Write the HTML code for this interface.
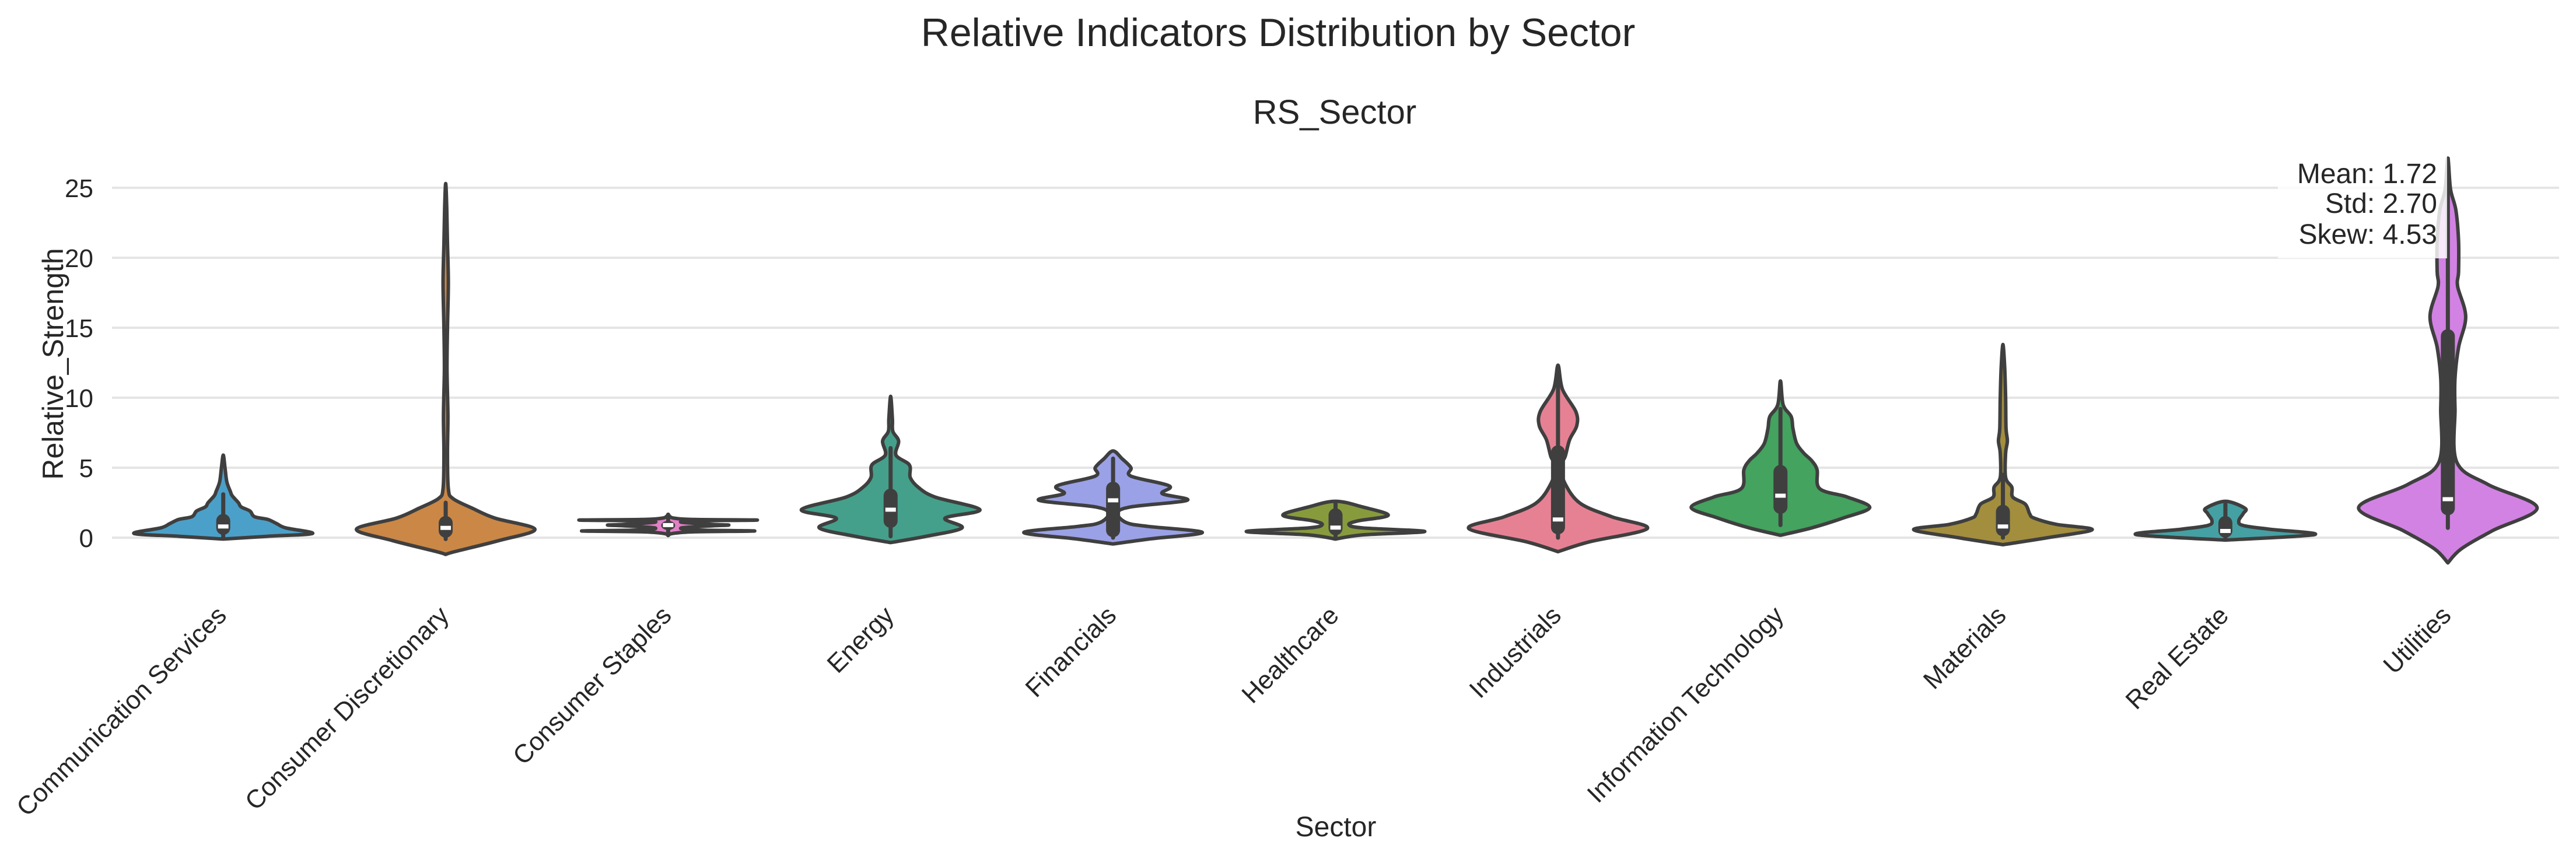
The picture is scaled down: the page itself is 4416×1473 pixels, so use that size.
<!DOCTYPE html>
<html><head><meta charset="utf-8"><style>
html,body{margin:0;padding:0;background:#fff;}
svg{display:block;font-family:"Liberation Sans",Arial,sans-serif;}
</style></head><body>
<svg id="chart" width="4416" height="1473" viewBox="0 0 4416 1473" xmlns="http://www.w3.org/2000/svg">
<rect width="4416" height="1473" fill="#fff"/>
<text x="2191" y="79" font-size="68" text-anchor="middle" fill="#262626">Relative Indicators Distribution by Sector</text>
<text x="2288" y="212" font-size="58" text-anchor="middle" fill="#262626">RS_Sector</text>
<g id="grid"></g>
<g id="yticks"></g>
<g id="violins"></g>
<g id="xticks"></g>
<text transform="translate(108,624) rotate(-90)" font-size="50" text-anchor="middle" fill="#262626">Relative_Strength</text>
<text x="2290" y="1434" font-size="48" text-anchor="middle" fill="#262626">Sector</text>
<g>
<rect x="3905" y="268" width="290" height="175" fill="#fff" fill-opacity="0.82"/>
<text x="4178" y="314" font-size="48" text-anchor="end" fill="#262626">Mean: 1.72</text>
<text x="4178" y="365" font-size="48" text-anchor="end" fill="#262626">Std: 2.70</text>
<text x="4178" y="418" font-size="48" text-anchor="end" fill="#262626">Skew: 4.53</text>
</g>
</svg>
<script>
const categories=["Communication Services","Consumer Discretionary","Consumer Staples","Energy","Financials","Healthcare","Industrials","Information Technology","Materials","Real Estate","Utilities"];
const colors=["#4ba0c9","#cb8746","#e37fc6","#44a08a","#9aa1e6","#879b3d","#e68194","#43a35f","#a38e3e","#45a0a3","#d282e3"];
const yTicks=[0,5,10,15,20,25];
const commVals=[-0.1,0.1,0.3,0.7,1.0,1.3,1.5,1.9,2.2,2.5,3.0,3.3,4.0,5.0,5.9];
const commW=[0,0.5,1,0.7,0.6,0.5,0.35,0.3,0.2,0.17,0.1,0.08,0.04,0.02,0];
const discVals=[-1.2,-1.0,-0.2,0.6,1.4,2.1,2.8,3.5,6,8.7,12,15,18.2,21,23.5,25.3];
const discW=[0,0.1,0.6,1,0.55,0.3,0.08,0.03,0.02,0.025,0.015,0.02,0.03,0.02,0.012,0];
const stapVals=[0.15,0.3,0.42,0.48,0.55,0.7,0.85,0.9,0.95,1.1,1.2,1.26,1.3,1.4,1.6];
const stapW=[0,0.05,0.3,0.97,0.3,0.15,0.5,0.68,0.5,0.15,0.3,1.0,0.3,0.06,0];
const enerVals=[-0.35,0.1,0.7,1.4,2.0,2.9,3.6,4.3,5.2,5.9,6.9,7.6,8.5,10.1];
const enerW=[0,0.4,0.8,0.61,1,0.5,0.31,0.22,0.21,0.06,0.09,0.025,0.02,0];
const finVals=[-0.45,-0.1,0.37,0.8,1.07,1.75,2.2,2.67,3.15,3.7,4.4,5.0,5.65,6.2];
const finW=[0,0.4,1,0.4,0.15,0.05,0.2,0.83,0.55,0.63,0.2,0.2,0.1,0];
const healVals=[-0.1,0.2,0.44,0.7,0.93,1.2,1.6,2.2,2.6];
const healW=[0,0.3,1,0.3,0.15,0.25,0.59,0.3,0];
const indVals=[-1.0,-0.3,0.65,1.5,2.45,3.85,5.1,5.8,7.0,8.0,9.0,10.6,12.3];
const indW=[0,0.35,1,0.6,0.25,0.08,0.03,0.08,0.13,0.21,0.2,0.05,0];
const itVals=[0.17,0.7,1.4,2.15,2.9,3.5,4.85,5.5,6.05,6.75,7.8,8.65,9.5,11.2];
const itW=[0,0.35,0.7,1,0.75,0.44,0.41,0.35,0.26,0.18,0.14,0.12,0.03,0];
const matVals=[-0.5,0,0.57,0.95,1.4,1.7,2.4,2.9,3.6,4.3,6.05,6.9,7.8,10,12.1,13.8];
const matW=[0,0.5,1,0.6,0.35,0.3,0.25,0.11,0.1,0.03,0.03,0.05,0.035,0.03,0.02,0];
const reVals=[-0.17,0.22,0.6,0.87,1.2,1.73,2.1,2.6];
const reW=[0,1,0.5,0.2,0.15,0.2,0.22,0];
const utilVals=[-1.8,-0.8,0.5,2.14,3.8,5.4,9.2,11.4,13.6,15.8,17.95,19,21.2,23.4,24.9,27.1];
const utilW=[0,0.15,0.5,1,0.45,0.1,0.08,0.08,0.12,0.2,0.11,0.12,0.12,0.09,0.03,0];
const q1s=[0.2,0,0.55,0.7,0.03,0.17,0.24,1.7,0.1,0,1.6];
const medians=[0.8,0.7,0.9,2.0,2.67,0.72,1.3,3.0,0.8,0.48,2.75];
const q3s=[1.7,1.55,1.2,3.5,4.0,2.1,6.6,5.2,2.35,1.55,14.9];
const whiskLo=[0,-0.1,0.2,0.1,0,0.05,0,0.9,0,-0.1,0.7];
const whiskHi=[3.1,2.5,1.65,6.4,5.65,2.5,12.3,9.2,4.5,2.4,27.1];

const profVals=[commVals,discVals,stapVals,enerVals,finVals,healVals,indVals,itVals,matVals,reVals,utilVals];
const profW=[commW,discW,stapW,enerW,finW,healW,indW,itW,matW,reW,utilW];

const NS="http://www.w3.org/2000/svg";
const X0=192,X1=4387,Y0=922,PPU=24,HALF=153;
function xScale(i){return X0+(X1-X0)*(i+0.5)/categories.length;}
function yScale(v){return Y0-v*PPU;}
function mk(tag,attrs,parent){const e=document.createElementNS(NS,tag);for(const k in attrs)e.setAttribute(k,attrs[k]);parent.appendChild(e);return e;}

const grid=document.getElementById('grid'),yt=document.getElementById('yticks');
yTicks.forEach(t=>{
  const l=mk('line',{x1:X0,x2:X1,y1:yScale(t),y2:yScale(t),stroke:'#e5e5e5','stroke-width':4},grid);
  
  
  const tx=mk('text',{x:160,y:yScale(t)+16,'font-size':44,'text-anchor':'end',fill:'#262626'},yt);
  tx.textContent=t;
  
  
});

function smoothPath(pts){
  let d='M'+pts[0][0].toFixed(1)+','+pts[0][1].toFixed(1);
  for(let i=0;i<pts.length-1;i++){
    const p0=pts[Math.max(0,i-1)],p1=pts[i],p2=pts[i+1],p3=pts[Math.min(pts.length-1,i+2)];
    const c1=[p1[0]+(p2[0]-p0[0])/6,p1[1]+(p2[1]-p0[1])/6];
    const c2=[p2[0]-(p3[0]-p1[0])/6,p2[1]-(p3[1]-p1[1])/6];
    d+=' C'+c1[0].toFixed(1)+','+c1[1].toFixed(1)+' '+c2[0].toFixed(1)+','+c2[1].toFixed(1)+' '+p2[0].toFixed(1)+','+p2[1].toFixed(1);
  }
  return d+'Z';
}

const vg=document.getElementById('violins'),xg=document.getElementById('xticks');
categories.forEach((c,i)=>{
  const cx=xScale(i),vals=profVals[i],ws=profW[i];
  const pts=[];
  for(let k=0;k<vals.length;k++)pts.push([cx+ws[k]*HALF,yScale(vals[k])]);
  for(let k=vals.length-2;k>=1;k--)pts.push([cx-ws[k]*HALF,yScale(vals[k])]);
  pts.push([cx,yScale(vals[0])]);
  const g=mk('g',{},vg);
  
  
  mk('path',{d:smoothPath(pts),fill:colors[i],stroke:'#3f3f3f','stroke-width':6,'stroke-linejoin':'round'},g);
  mk('line',{x1:cx,x2:cx,y1:yScale(whiskLo[i]),y2:yScale(whiskHi[i]),stroke:'#3f3f3f','stroke-width':7,'stroke-linecap':'round'},g);
  mk('rect',{x:cx-12,y:yScale(q3s[i]),width:24,height:Math.max(2,yScale(q1s[i])-yScale(q3s[i])),rx:12,fill:'#3f3f3f'},g);
  mk('rect',{x:cx-9,y:yScale(medians[i])-3.5,width:18,height:7,fill:'#fff'},g);
  const t=mk('text',{transform:'translate('+(cx+8)+',1058) rotate(-45)','font-size':44,'text-anchor':'end',fill:'#262626'},xg);
  t.textContent=c;
  
  
});
</script>
</body></html>
